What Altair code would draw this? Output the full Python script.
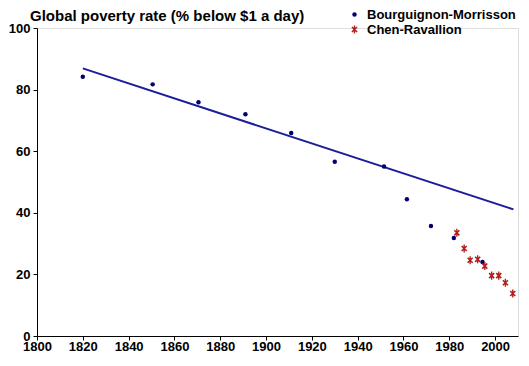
import altair as alt
import pandas as pd

# Bourguignon-Morrisson estimates (year, % below $1/day)
bm_years = [1820, 1850.5, 1870.5, 1891, 1911, 1930, 1951.5, 1961.5, 1972, 1982, 1994.5]
bm_values = [84.2, 81.7, 75.9, 72.0, 65.9, 56.6, 55.0, 44.4, 35.7, 31.8, 24.0]

# Chen-Ravallion estimates
cr_years = [1983.3, 1986.5, 1989.1, 1992.4, 1995.5, 1998.5, 2001.6, 2004.5, 2007.7]
cr_values = [33.5, 28.4, 24.6, 24.9, 22.7, 19.6, 19.6, 17.3, 13.8]

# Linear trend line end points
trend_years = [1820, 2008]
trend_values = [86.9, 41.1]

series_names = ["Bourguignon-Morrisson", "Chen-Ravallion"]
x_ticks = [1800, 1820, 1840, 1860, 1880, 1900, 1920, 1940, 1960, 1980, 2000]
y_ticks = [0, 20, 40, 60, 80, 100]

pts = pd.DataFrame({
    "year": bm_years + cr_years,
    "rate": bm_values + cr_values,
    "series": [series_names[0]] * len(bm_years) + [series_names[1]] * len(cr_years),
})
trend = pd.DataFrame({"year": trend_years, "rate": trend_values})

FONT = "Liberation Sans"
# Excel-style star marker: vertical bar plus an X, drawn as filled bars with the same winding
ASTERISK = ("M-0.3,-1.8L0.3,-1.8L0.3,1.8L-0.3,1.8Z"
            "M0.883,1.377L-1.377,-0.883L-0.883,-1.377L1.377,0.883Z"
            "M1.377,-0.883L-0.883,1.377L-1.377,0.883L0.883,-1.377Z")

xscale = alt.Scale(domain=[1800, 2010], nice=False, zero=False)
yscale = alt.Scale(domain=[0, 100], nice=False)

xaxis = alt.Axis(values=x_ticks, title=None, grid=False, format="d",
                 labelFont=FONT, labelFontSize=13, labelFontWeight="bold",
                 labelColor="#000", tickColor="#000", domainColor="#000",
                 tickSize=4, labelPadding=0, labelFlush=False, labelOverlap=False)
yaxis = alt.Axis(values=y_ticks, title=None, grid=False,
                 labelFont=FONT, labelFontSize=13, labelFontWeight="bold",
                 labelColor="#000", tickColor="#000", domainColor="#000",
                 tickSize=4, labelPadding=3)

legend_props = dict(title=None, orient="none", legendX=311, legendY=-20,
                    labelFont=FONT, labelFontSize=13, labelFontWeight="bold",
                    labelColor="#000", rowPadding=1, labelOffset=6,
                    symbolSize=20, padding=0)

line = alt.Chart(trend).mark_line(color="#1c1c9c", strokeWidth=2).encode(
    x=alt.X("year:Q", scale=xscale, axis=xaxis),
    y=alt.Y("rate:Q", scale=yscale, axis=yaxis),
)

points = alt.Chart(pts).mark_point(filled=True, size=20, opacity=1, strokeWidth=0).encode(
    x=alt.X("year:Q", scale=xscale, axis=xaxis),
    y=alt.Y("rate:Q", scale=yscale, axis=yaxis),
    color=alt.Color("series:N",
                    scale=alt.Scale(domain=series_names, range=["#00006e", "#b01e1e"]),
                    legend=alt.Legend(**legend_props)),
    shape=alt.Shape("series:N",
                    scale=alt.Scale(domain=series_names, range=["circle", ASTERISK]),
                    legend=alt.Legend(**legend_props)),
)

chart = alt.layer(line, points).properties(
    width=481, height=308,
    autosize=alt.AutoSizeParams(type="none"),
    padding={"left": 29, "top": 20, "right": 3, "bottom": 16},
    title=alt.TitleParams("Global poverty rate (% below $1 a day)", anchor="start", frame="group",
                          font=FONT, fontSize=15, fontWeight="bold", color="#000",
                          dx=-7, dy=16, offset=0),
).configure_view(stroke=None).configure(background="white")

chart.save("out.html", embed_options={"renderer": "svg", "actions": False})
